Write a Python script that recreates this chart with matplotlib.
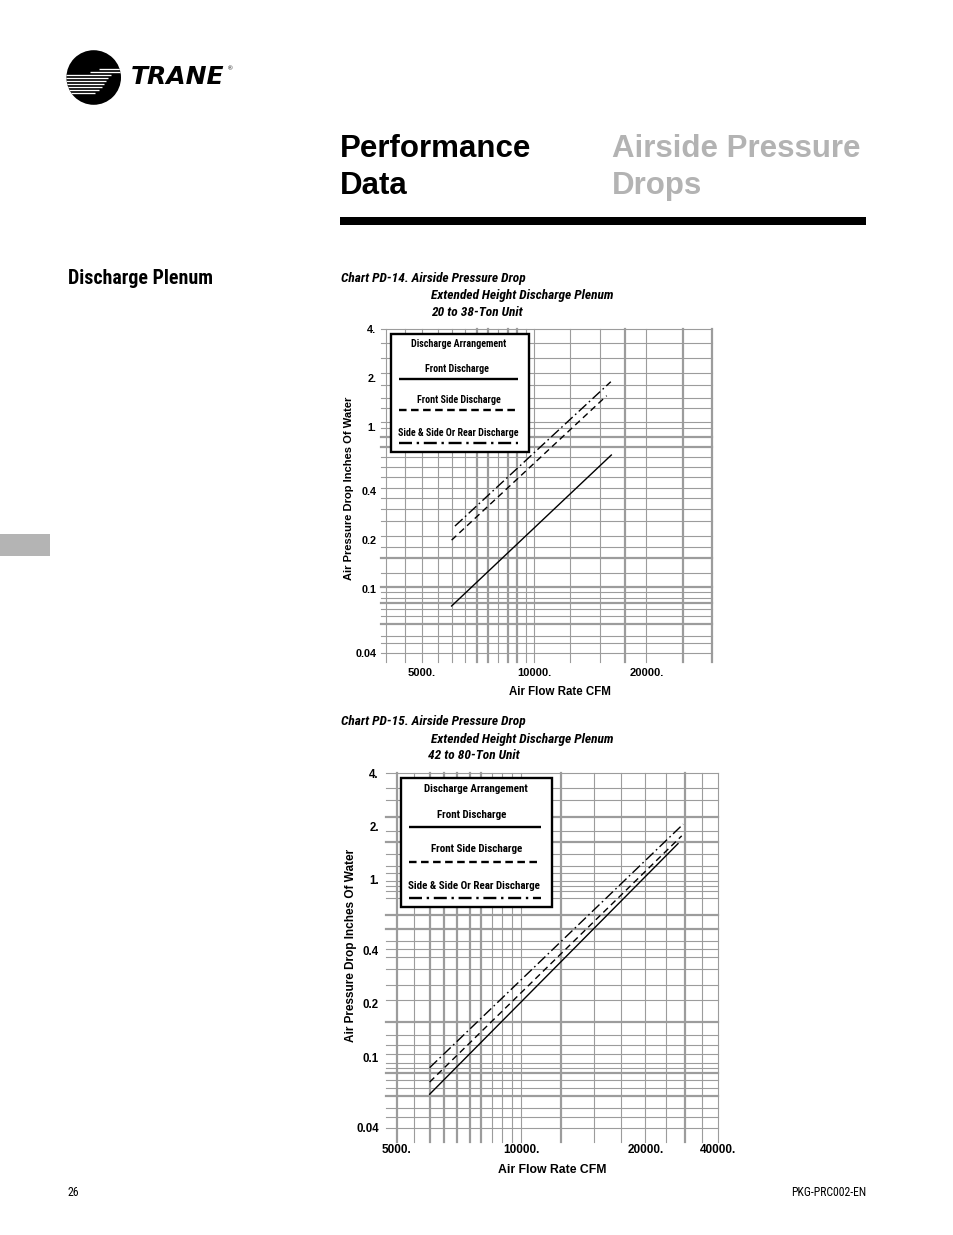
import matplotlib
matplotlib.use("Agg")
import matplotlib.pyplot as plt
from matplotlib.patches import Circle, Rectangle
from matplotlib.ticker import NullLocator

# ------------------------------------------------------------------ data
series_names = ["Front Discharge", "Front Side Discharge", "Side & Side Or Rear Discharge"]

# Chart PD-14 (20 to 38-Ton Unit): airflow CFM vs pressure drop (in. of water)
c1_cfm_front = [6000, 16100]
c1_dp_front = [0.078, 0.667]
c1_cfm_fside = [6000, 15650]
c1_dp_fside = [0.199, 1.55]
c1_cfm_side = [6125, 16050]
c1_dp_side = [0.243, 1.89]

# Chart PD-15 (42 to 80-Ton Unit)
c2_cfm_front = [6000, 24000]
c2_dp_front = [0.062, 1.60]
c2_cfm_fside = [6000, 24500]
c2_dp_fside = [0.0726, 1.77]
c2_cfm_side = [6000, 24700]
c2_dp_side = [0.0875, 2.06]

y_tick_values = [4, 2, 1, 0.4, 0.2, 0.1, 0.04]
y_tick_labels = ["4.", "2.", "1.", "0.4", "0.2", "0.1", "0.04"]
c1_x_tick_values = [5000, 10000, 20000]
c1_x_tick_labels = ["5000.", "10000.", "20000."]
c2_x_tick_values = [5000, 10000, 20000]
c2_x_tick_labels = ["5000.", "10000.", "20000."]
c2_edge_label = "40000."

# log-paper grid lines (printed chart paper)
c1_grid_x = [4000, 4500, 5000, 5500, 6000, 6500, 7000, 7500, 8000, 8500, 9000,
             9500, 10000, 12500, 15000, 17500, 20000, 25000, 30000]
c1_grid_x_thick = [7000, 7500, 8500, 9000, 17500, 25000, 30000]
c1_grid_y = [4, 3.3, 2.65, 2.15, 1.8, 1.5, 1.3, 1.07, 0.98, 0.86, 0.75, 0.65,
             0.56, 0.49, 0.42, 0.36, 0.31, 0.26, 0.21, 0.18, 0.154, 0.125,
             0.102, 0.095, 0.088, 0.081, 0.075, 0.068, 0.06, 0.051, 0.046, 0.04]
c1_grid_y_thick = [0.86, 0.75, 0.154, 0.102, 0.081, 0.06]

c2_grid_x = [5000, 5500, 6000, 6500, 7000, 7500, 8000, 8500, 9000, 9500, 10000,
             12500, 15000, 17500, 20000, 22500, 25000, 27500, 30000]
c2_grid_x_thick = [5000, 6000, 6500, 7000, 7500, 8000, 12500, 25000]
c2_grid_y = [4, 3.28, 2.81, 2.27, 1.89, 1.63, 1.40, 1.19, 1.09, 0.99, 0.92, 0.87,
             0.79, 0.63, 0.53, 0.45, 0.41, 0.37, 0.315, 0.256, 0.21, 0.158,
             0.134, 0.117, 0.1045, 0.093, 0.087, 0.082, 0.075, 0.067, 0.0605,
             0.052, 0.046, 0.04]
c2_grid_y_thick = [2.27, 1.63, 0.63, 0.53, 0.158, 0.082, 0.0605]

# ------------------------------------------------------------------ style
W, H = 954, 1235
DPI = 100
GRID = "#9c9c9c"
SANS = ["Liberation Sans", "DejaVu Sans"]
COND = ["Roboto Condensed", "DejaVu Sans"]
plt.rcParams["font.family"] = SANS

DASHED = (0, (4.6, 3.0))
DASHDOT = (0, (7.5, 2.4, 1.2, 2.4))
styles = {
    "Front Discharge": dict(ls="-"),
    "Front Side Discharge": dict(ls=DASHED),
    "Side & Side Or Rear Discharge": dict(ls=DASHDOT),
}

fig = plt.figure(figsize=(W / DPI, H / DPI), dpi=DPI)


def rect(l, t, r, b):
    return [l / W, 1 - b / H, (r - l) / W, (b - t) / H]


def pixel_axes(zorder):
    a = fig.add_axes([0, 0, 1, 1], zorder=zorder)
    a.set_xlim(0, W)
    a.set_ylim(H, 0)
    a.axis("off")
    a.patch.set_alpha(0)
    return a


bg = pixel_axes(0)

# ---------------- logo
circ = Circle((93.7, 77.5), 27.3, facecolor="black", edgecolor="none")
bg.add_patch(circ)
stripes = [(68.5, 99, 122), (71.5, 90, 122), (74.5, 60, 111), (77.5, 60, 108.5),
           (80.5, 60, 106), (83.5, 60, 104), (86.5, 60, 102), (89.5, 60, 99.5),
           (93, 60, 95)]
for y, x0, x1 in stripes:
    ln, = bg.plot([x0, x1], [y, y], color="white", lw=0.95, solid_capstyle="butt")
    ln.set_clip_path(circ)

bg.text(131, 83.5, "TRANE", fontsize=18, fontweight="bold", style="oblique",
        family=["DejaVu Sans"], va="baseline", ha="left")
bg.text(228, 69, "®", fontsize=4.5, ha="left", va="center")

# ---------------- titles
bg.text(340, 157, "Performance", fontsize=22.5, fontweight="bold", va="baseline", ha="left")
bg.text(340, 194, "Data", fontsize=22.5, fontweight="bold", va="baseline", ha="left")
bg.text(612, 157, "Airside Pressure", fontsize=22.5, fontweight="bold", va="baseline",
        ha="left", color="#b3b3b3")
bg.text(612, 194, "Drops", fontsize=22.5, fontweight="bold", va="baseline", ha="left",
        color="#b3b3b3")
bg.add_patch(Rectangle((340, 216.5), 526, 8.5, facecolor="black", edgecolor="none"))

bg.text(68, 284, "Discharge Plenum", fontsize=14.3, fontweight="bold", family=COND,
        stretch="condensed", va="baseline", ha="left")
bg.add_patch(Rectangle((0, 534), 50.5, 21.5, facecolor="#b4b4b4", edgecolor="none"))

cap_kw = dict(fontsize=9.6, fontweight="bold", style="italic", family=COND,
              stretch="condensed", va="baseline", ha="left")
bg.text(341, 282, "Chart PD-14. Airside Pressure Drop", **cap_kw)
bg.text(431, 299, "Extended Height Discharge Plenum", **cap_kw)
bg.text(431, 316, "20 to 38-Ton Unit", **cap_kw)
bg.text(341, 725, "Chart PD-15. Airside Pressure Drop", **cap_kw)
bg.text(431, 743, "Extended Height Discharge Plenum", **cap_kw)
bg.text(428, 759, "42 to 80-Ton Unit", **cap_kw)

bg.text(68, 1192, "26", fontsize=8.5, family=COND, stretch="condensed", va="center",
        ha="left")
bg.text(866, 1192, "PKG-PRC002-EN", fontsize=8.5, family=COND, stretch="condensed",
        va="center", ha="right")


# ---------------- charts
def make_chart(box, xlim, gx, gxt, gy, gyt, xext, yext, xt, xtl, fs, ypad, xpad,
               ylab_pos, xlab_pos, curves):
    l, t, r, b = box
    ax = fig.add_axes(rect(l, t, r, b), zorder=1)
    ax.set_xscale("log")
    ax.set_yscale("log")
    ax.set_xlim(*xlim)
    ax.set_ylim(0.04, 4)
    ax.set_frame_on(False)
    wpx, hpx = r - l, b - t
    for v in gx:
        ax.axvline(v, ymin=-yext / hpx, ymax=1, color=GRID,
                   lw=1.6 if v in gxt else 0.8, clip_on=False, zorder=1)
    for v in gy:
        ax.axhline(v, xmin=-xext / wpx, xmax=1, color=GRID,
                   lw=1.6 if v in gyt else 0.8, clip_on=False, zorder=1)
    ax.set_yticks(y_tick_values, y_tick_labels, fontsize=fs - 0.2, fontweight="bold")
    ax.set_xticks(xt, xtl, fontsize=fs, fontweight="bold")
    ax.xaxis.set_minor_locator(NullLocator())
    ax.yaxis.set_minor_locator(NullLocator())
    ax.tick_params(axis="y", length=0, pad=ypad)
    ax.tick_params(axis="x", length=0, pad=xpad)
    ax.set_ylabel("Air Pressure Drop Inches Of Water", fontsize=fs, fontweight="bold",
                  va="center")
    ax.yaxis.set_label_coords(*ylab_pos)
    ax.set_xlabel("Air Flow Rate CFM", fontsize=fs + 0.3, fontweight="bold", va="center")
    ax.xaxis.set_label_coords(*xlab_pos)
    for name, xs, ys in curves:
        ax.plot(xs, ys, color="black", lw=1.0, zorder=3, **styles[name])
    return ax


ax1 = make_chart((386, 329, 712, 653), (4000, 30000), c1_grid_x, c1_grid_x_thick,
                 c1_grid_y, c1_grid_y_thick, 5, 9, c1_x_tick_values, c1_x_tick_labels,
                 8.0, 7, 11, (-0.113, 0.509), (0.534, -0.120),
                 [(series_names[0], c1_cfm_front, c1_dp_front),
                  (series_names[1], c1_cfm_fside, c1_dp_fside),
                  (series_names[2], c1_cfm_side, c1_dp_side)])

ax2 = make_chart((397, 773, 718, 1128), (5000, 30000), c2_grid_x, c2_grid_x_thick,
                 c2_grid_y, c2_grid_y_thick, 11, 14, c2_x_tick_values, c2_x_tick_labels,
                 8.5, 13, 11.5, (-0.143, 0.515), (0.483, -0.118),
                 [(series_names[0], c2_cfm_front, c2_dp_front),
                  (series_names[1], c2_cfm_fside, c2_dp_fside),
                  (series_names[2], c2_cfm_side, c2_dp_side)])
ax2.annotate(c2_edge_label, xy=(1.0, 0.0), xycoords="axes fraction",
             xytext=(0, -11.5), textcoords="offset points", ha="center", va="top",
             fontsize=8.5, fontweight="bold")

# ---------------- legend boxes (custom layout: label above each line sample)
ov = pixel_axes(5)


def draw_legend(box, title_xy, rows, fs):
    l, t, r, b = box
    ov.add_patch(Rectangle((l, t), r - l, b - t, facecolor="white", edgecolor="black",
                           lw=1.7, zorder=5))
    ov.text(title_xy[0], title_xy[1], "Discharge Arrangement", fontsize=fs,
            fontweight="bold", family=COND, stretch="condensed", ha="center",
            va="center", zorder=6)
    for name, (tx, ty), (x0, x1, ly) in rows:
        ov.text(tx, ty, name, fontsize=fs, fontweight="bold", family=COND,
                stretch="condensed", ha="center", va="center", zorder=6)
        ls = styles[name]["ls"]
        if ls == DASHED:
            ls = (0, (3.2, 1.9))
        elif ls == DASHDOT:
            ls = (0, (5.5, 2.0, 1.0, 2.0))
        ov.plot([x0, x1], [ly, ly], color="black", lw=1.7, ls=ls, zorder=6,
                solid_capstyle="butt", dash_capstyle="butt")


draw_legend((391.5, 334, 529, 451.5), (459, 344),
            [(series_names[0], (457, 369), (399, 518, 379)),
             (series_names[1], (459, 400), (399, 518, 410)),
             (series_names[2], (458, 433), (399, 518, 443))], 7.2)
draw_legend((401, 778, 552, 907), (476, 788.5),
            [(series_names[0], (472, 815), (409, 541, 827)),
             (series_names[1], (477, 849), (409, 541, 862)),
             (series_names[2], (474, 886), (409, 541, 898))], 7.9)

fig.savefig("out.png", dpi=DPI)
